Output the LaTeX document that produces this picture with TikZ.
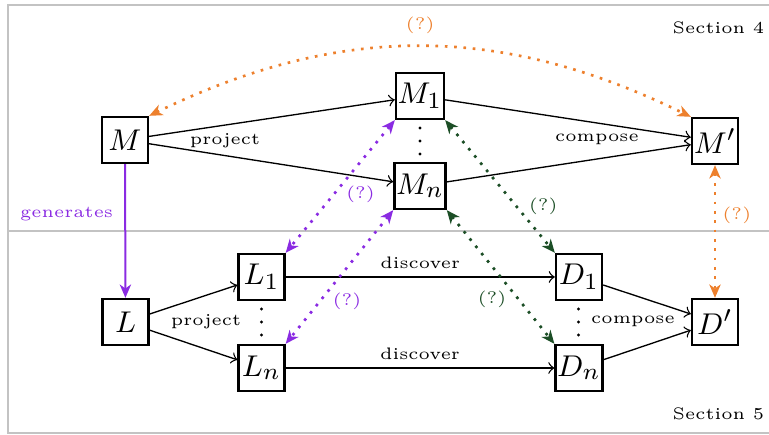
\documentclass[tikz,border=0pt]{standalone}
\usetikzlibrary{arrows.meta}
\definecolor{purp}{RGB}{138,43,226}
\definecolor{orng}{RGB}{237,128,45}
\definecolor{grn}{RGB}{28,78,38}
\definecolor{framec}{RGB}{195,195,195}
\begin{document}
\begin{tikzpicture}[x=0.3pt,y=-0.3pt,
  box/.style={draw,line width=0.7pt,minimum width=13.8pt,minimum height=13.8pt,inner sep=0.5pt,font=\fontsize{9.5}{10}\selectfont},
  lbl/.style={font=\tiny},
  arr/.style={->,>=to},
  dotarr/.style={<->,thick,dotted,>={Stealth[length=4pt,width=3.4pt,inset=1.2pt]}},
  dotc/.style={fill=black,circle,inner sep=0pt,minimum size=1pt}]
\useasboundingbox (0,0) rectangle (769,435);
\draw[framec,line width=0.7pt] (8,5) rectangle (800,231);
\draw[framec,line width=0.7pt] (8,231) rectangle (800,433);
\node[lbl,anchor=east,inner sep=0pt] (s4) at (765,28) {Section 4};
\node[lbl,anchor=east,inner sep=0pt] (s5) at (765,414) {Section 5};
% nodes
\node[box] (M) at (125,140) {$M$};
\node[box] (M1) at (420,96) {$M_1$};
\node[box] (Mn) at (420,186) {$M_n$};
\node[box] (Mp) at (715,141) {$M'$};
\node[box] (L) at (125.5,322) {$L$};
\node[box] (L1) at (261.5,277) {$L_1$};
\node[box] (Ln) at (261.5,368) {$L_n$};
\node[box] (D1) at (579,277) {$D_1$};
\node[box] (Dn) at (579,368) {$D_n$};
\node[box] (Dp) at (715,322) {$D'$};
% vertical dots
\foreach \yy [count=\i] in {128,141,154} {
  \node[dotc] (dm\i) at (420,\yy) {};
  \node[dotc] (dl\i) at (261.5,\yy+181) {};
  \node[dotc] (dd\i) at (578.5,\yy+181) {};
}
% black arrows
\draw[arr] (M) -- (M1);
\draw[arr] (M) -- (Mn);
\draw[arr] (M1) -- (Mp);
\draw[arr] (Mn) -- (Mp);
\draw[arr] (L) -- (L1);
\draw[arr] (L) -- (Ln);
\draw[arr] (L1) -- node[lbl,above,yshift=-1pt] {discover} (D1);
\draw[arr] (Ln) -- node[lbl,above,yshift=-1pt] {discover} (Dn);
\draw[arr] (D1) -- (Dp);
\draw[arr] (Dn) -- (Dp);
\node[lbl] (pm) at (225,141) {project};
\node[lbl] (cm) at (597,139) {compose};
\node[lbl] (pl) at (206,322) {project};
\node[lbl] (cd) at (633,321) {compose};
% purple
\draw[purp,semithick,->,>={Stealth[length=4pt,width=3.4pt,inset=1.2pt]}] (M) -- node[lbl,left,pos=0.37] {generates} (L);
\draw[dotarr,purp] (M1.south west) -- node[lbl,right,pos=0.56] {(?)} (L1.north east);
\draw[dotarr,purp] (Mn.south west) -- node[lbl,right,pos=0.68] {(?)} (Ln.north east);
% green
\draw[dotarr,grn] (M1.south east) -- node[lbl,right,pos=0.65] {(?)} (D1.north west);
\draw[dotarr,grn] (Mn.south east) -- node[lbl,left,pos=0.67] {(?)} (Dn.north west);
% orange
\draw[dotarr,orng] (M.north east) to[bend left=26] node[lbl,above] {(?)} (Mp.north west);
\draw[dotarr,orng] (Mp) -- node[lbl,right,pos=0.38,xshift=-1.5pt] {(?)} (Dp);
\end{tikzpicture}
\end{document}
